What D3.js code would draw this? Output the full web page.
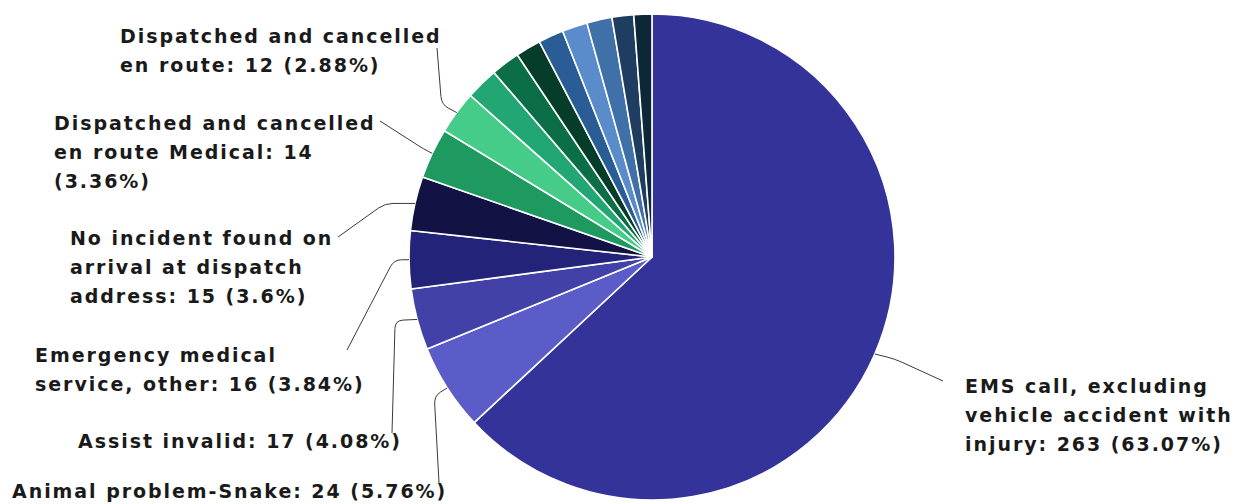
<!DOCTYPE html>
<html>
<head>
<meta charset="utf-8">
<script src="https://cdn.jsdelivr.net/npm/d3@7"></script>
<style>
  html, body { margin: 0; padding: 0; background: #ffffff; }
  svg { display: block; }
  .lbl { font-family: "DejaVu Sans", Verdana, sans-serif; font-weight: bold; font-size: 19px; letter-spacing: 1.95px; fill: #1a1a1a; }
</style>
</head>
<body>
<svg id="chart" width="1243" height="504"></svg>
<script>
// ---- data ----
const categories = [
  "EMS call, excluding vehicle accident with injury",
  "Animal problem-Snake",
  "Assist invalid",
  "Emergency medical service, other",
  "No incident found on arrival at dispatch address",
  "Dispatched and cancelled en route Medical",
  "Dispatched and cancelled en route",
  "Unlabeled 1", "Unlabeled 2", "Unlabeled 3", "Unlabeled 4",
  "Unlabeled 5", "Unlabeled 6", "Unlabeled 7", "Unlabeled 8"
];
const values = [263, 24, 17, 16, 15, 14, 12, 9, 8, 7, 7, 7, 7, 6, 5];

// ---- styles ----
const sliceColors = [
  "#333399", "#5c5cc8", "#4141a8", "#23237a", "#121245", "#1e9960", "#44cc88",
  "#22a673", "#0b6e47", "#063d2a", "#2a5d96", "#5a8ccc", "#3f70a8", "#1e3d60", "#0c2838"
];

// ---- label layout (index into data, text position, line breaks, leader geometry) ----
const labelLayout = [
  { i: 0, x: 965, y: 393, breaks: [3, 3, 3], elbow: [20, 5],   anchor: [943, 381] },
  { i: 1, x: 12,  y: 498, breaks: [4],       elbow: [-13, 8],  anchor: [439, 483] },
  { i: 2, x: 78,  y: 448, breaks: [4],       elbow: [-22, 1],  anchor: [392, 433] },
  { i: 3, x: 35,  y: 362, breaks: [2, 4],    elbow: [-15, 0],  anchor: [347, 350] },
  { i: 4, x: 70,  y: 245, breaks: [4, 3, 3], elbow: [-30, 0],  anchor: [338, 237] },
  { i: 5, x: 54,  y: 130, breaks: [3, 4, 1], elbow: [-8, -4],  anchor: [380, 121] },
  { i: 6, x: 120, y: 43,  breaks: [3, 4],    elbow: [-15, -8], anchor: [437, 48] }
];
const lineHeight = 29;

const cx = 652, cy = 257, radius = 243;

const svg = d3.select("#chart");
const total = d3.sum(values);

const pie = d3.pie().sort(null).value(d => d)(values);
const arc = d3.arc().innerRadius(0).outerRadius(radius);

const g = svg.append("g").attr("transform", `translate(${cx},${cy})`);
g.selectAll("path.slice")
  .data(pie)
  .join("path")
  .attr("class", "slice")
  .attr("d", arc)
  .attr("fill", (d, i) => sliceColors[i])
  .attr("stroke", "#ffffff")
  .attr("stroke-width", 1.6)
  .attr("stroke-linejoin", "round");

function pctText(v) {
  return String(+(v / total * 100).toFixed(2));
}

function leaderPath(E, B, A) {
  const rr = 8;
  const d1 = Math.hypot(B[0] - E[0], B[1] - E[1]);
  const d2 = Math.hypot(A[0] - B[0], A[1] - B[1]);
  const r1 = Math.min(rr, d1 / 2), r2 = Math.min(rr, d2 / 2);
  const p1 = [B[0] - (B[0] - E[0]) / (d1 || 1) * r1, B[1] - (B[1] - E[1]) / (d1 || 1) * r1];
  const p2 = [B[0] + (A[0] - B[0]) / (d2 || 1) * r2, B[1] + (A[1] - B[1]) / (d2 || 1) * r2];
  const p = d3.path();
  p.moveTo(E[0], E[1]);
  p.lineTo(p1[0], p1[1]);
  p.quadraticCurveTo(B[0], B[1], p2[0], p2[1]);
  p.lineTo(A[0], A[1]);
  return p.toString();
}

labelLayout.forEach(L => {
  const d = pie[L.i];
  const mid = (d.startAngle + d.endAngle) / 2;
  const E = [cx + radius * Math.sin(mid), cy - radius * Math.cos(mid)];
  const B = [E[0] + L.elbow[0], E[1] + L.elbow[1]];
  svg.append("path")
    .attr("d", leaderPath(E, B, L.anchor))
    .attr("fill", "none")
    .attr("stroke", "#3a3a3a")
    .attr("stroke-width", 1);

  const full = `${categories[L.i]}: ${values[L.i]} (${pctText(values[L.i])}%)`;
  const words = full.split(" ");
  const lines = [];
  let k = 0;
  L.breaks.forEach(n => { lines.push(words.slice(k, k + n).join(" ")); k += n; });
  if (k < words.length) lines[lines.length - 1] += " " + words.slice(k).join(" ");

  const t = svg.append("text").attr("class", "lbl").attr("x", L.x).attr("y", L.y);
  lines.forEach((ln, j) => {
    t.append("tspan").attr("x", L.x).attr("y", L.y + j * lineHeight).text(ln);
  });
});
</script>
</body>
</html>
